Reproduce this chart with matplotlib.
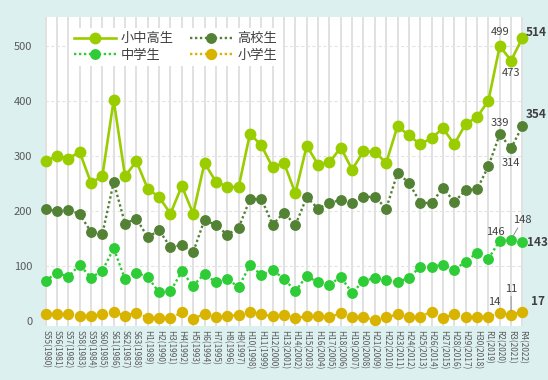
import matplotlib
matplotlib.use("Agg")
import matplotlib.pyplot as plt

plt.rcParams['font.family'] = ['Noto Sans CJK JP', 'DejaVu Sans']

# 年度ラベル
labels = ["S55(1980)", "S56(1981)", "S57(1982)", "S58(1983)", "S59(1984)",
          "S60(1985)", "S61(1986)", "S62(1987)", "S63(1988)", "H1(1989)",
          "H2(1990)", "H3(1991)", "H4(1992)", "H5(1993)", "H6(1994)",
          "H7(1995)", "H8(1996)", "H9(1997)", "H10(1998)", "H11(1999)",
          "H12(2000)", "H13(2001)", "H14(2002)", "H15(2003)", "H16(2004)",
          "H17(2005)", "H18(2006)", "H19(2007)", "H20(2008)", "H21(2009)",
          "H22(2010)", "H23(2011)", "H24(2012)", "H25(2013)", "H26(2014)",
          "H27(2015)", "H28(2016)", "H29(2017)", "H30(2018)", "R1(2019)",
          "R2(2020)", "R3(2021)", "R4(2022)"]

# 自殺者数
total = [290, 300, 295, 307, 251, 263, 401, 263, 290, 240,
         225, 195, 245, 195, 287, 253, 244, 243, 340, 319,
         279, 287, 232, 318, 284, 288, 315, 275, 308, 307,
         287, 354, 337, 321, 332, 350, 321, 358, 370, 400,
         499, 473, 514]
high = [204, 199, 202, 194, 162, 158, 252, 177, 186, 152,
        165, 134, 138, 125, 184, 174, 157, 169, 221, 222,
        175, 197, 174, 225, 204, 214, 220, 215, 225, 226,
        204, 269, 251, 215, 214, 242, 216, 238, 239, 281,
        339, 314, 354]
junior = [73, 88, 80, 102, 79, 91, 132, 76, 88, 80,
          52, 54, 90, 64, 86, 70, 76, 62, 101, 84,
          92, 77, 54, 82, 70, 66, 80, 51, 73, 78,
          75, 70, 79, 98, 99, 102, 93, 108, 124, 113,
          146, 148, 143]
elem = [12, 13, 12, 9, 9, 12, 16, 10, 15, 6,
        6, 5, 16, 4, 13, 7, 9, 11, 16, 12,
        9, 11, 5, 9, 9, 7, 14, 8, 8, 1,
        7, 12, 8, 8, 17, 6, 12, 8, 7, 8,
        14, 11, 17]

x = list(range(len(labels)))

fig = plt.figure(figsize=(5.48, 3.8), dpi=100)
fig.patch.set_facecolor('#ddf0f0')
ax = fig.add_axes([0.0821, 0.1421, 0.8723, 0.8132])
ax.set_facecolor('white')

dot = (0, (1, 1.1))
c_total = '#9acd00'
c_high = '#548235'
c_junior = '#2ecc36'
c_elem = '#d8b400'

h1, = ax.plot(x, total, color=c_total, lw=1.9, marker='o', ms=7.5, zorder=6,
              label='小中高生', clip_on=False)
h3, = ax.plot(x, high, color=c_high, lw=1.7, ls=dot, marker='o', ms=6.8, zorder=5,
              label='高校生', clip_on=False)
h2, = ax.plot(x, junior, color=c_junior, lw=1.7, ls=dot, marker='o', ms=6.8, zorder=4,
              label='中学生', clip_on=False)
h4, = ax.plot(x, elem, color=c_elem, lw=1.7, ls=dot, marker='o', ms=7.2, zorder=3,
              label='小学生', clip_on=False)

ax.set_xlim(-0.05, len(labels) - 0.95)
ax.set_ylim(-9, 552)
ax.set_yticks([0, 100, 200, 300, 400, 500])
ax.set_xticks(x)
ax.set_xticklabels(labels, rotation=270, fontsize=6, color='#595959')
ax.tick_params(axis='x', length=0, pad=3)
ax.tick_params(axis='y', length=0, pad=9, labelsize=8, labelcolor='#595959')

for xi in x:
    ax.axvline(xi, color='#d9d9d9', lw=1.1, zorder=1)
for yv in [100, 200, 300, 400, 500]:
    ax.axhline(yv, color='#e3e3e3', lw=0.8, ls=(0, (3, 2)), zorder=1)
for s in ax.spines.values():
    s.set_visible(False)

leg = ax.legend(handles=[h1, h2, h3, h4], ncol=2, loc='upper left',
                bbox_to_anchor=(0.05, 0.965), borderaxespad=0, frameon=True,
                fontsize=9.5, handlelength=3.2, columnspacing=1.2,
                handletextpad=0.4, labelspacing=0.25, borderpad=0.35)
leg.get_frame().set_facecolor('white')
leg.get_frame().set_edgecolor('none')
leg.get_frame().set_alpha(1)
leg.set_zorder(10)
for t in leg.get_texts():
    t.set_color('#404040')

tc = '#404040'
n = len(labels) - 1

def note(i, v, dx, dy, ha='center', va='center', bold=False, line=None):
    ax.annotate(str(v), (i, v), xytext=(dx, dy), textcoords='offset points',
                ha=ha, va=va, fontsize=8.5 if bold else 8,
                fontweight='bold' if bold else 'normal', color=tc,
                annotation_clip=False, zorder=12,
                arrowprops=line)

gray = dict(arrowstyle='-', color='#909090', lw=0.7, shrinkA=0, shrinkB=3)

note(n - 2, total[n - 2], 0, 10)
note(n - 1, total[n - 1], 0, -9)
note(n, total[n], 2.5, 4, ha='left', bold=True)
note(n - 2, high[n - 2], 0, 8)
note(n - 1, high[n - 1], 0, -11)
note(n, high[n], 2.5, 8, ha='left', bold=True)
note(n - 2, junior[n - 2], -3, 6)
note(n - 1, junior[n - 1], 8, 14, line=gray)
note(n, junior[n], 3, 0, ha='left', bold=True)
note(n - 2, elem[n - 2], -4, 8)
note(n - 1, elem[n - 1], 0, 19, line=gray)
note(n, elem[n], 6, 7, ha='left', bold=True)

fig.savefig('out.png', dpi=100, facecolor=fig.get_facecolor())
